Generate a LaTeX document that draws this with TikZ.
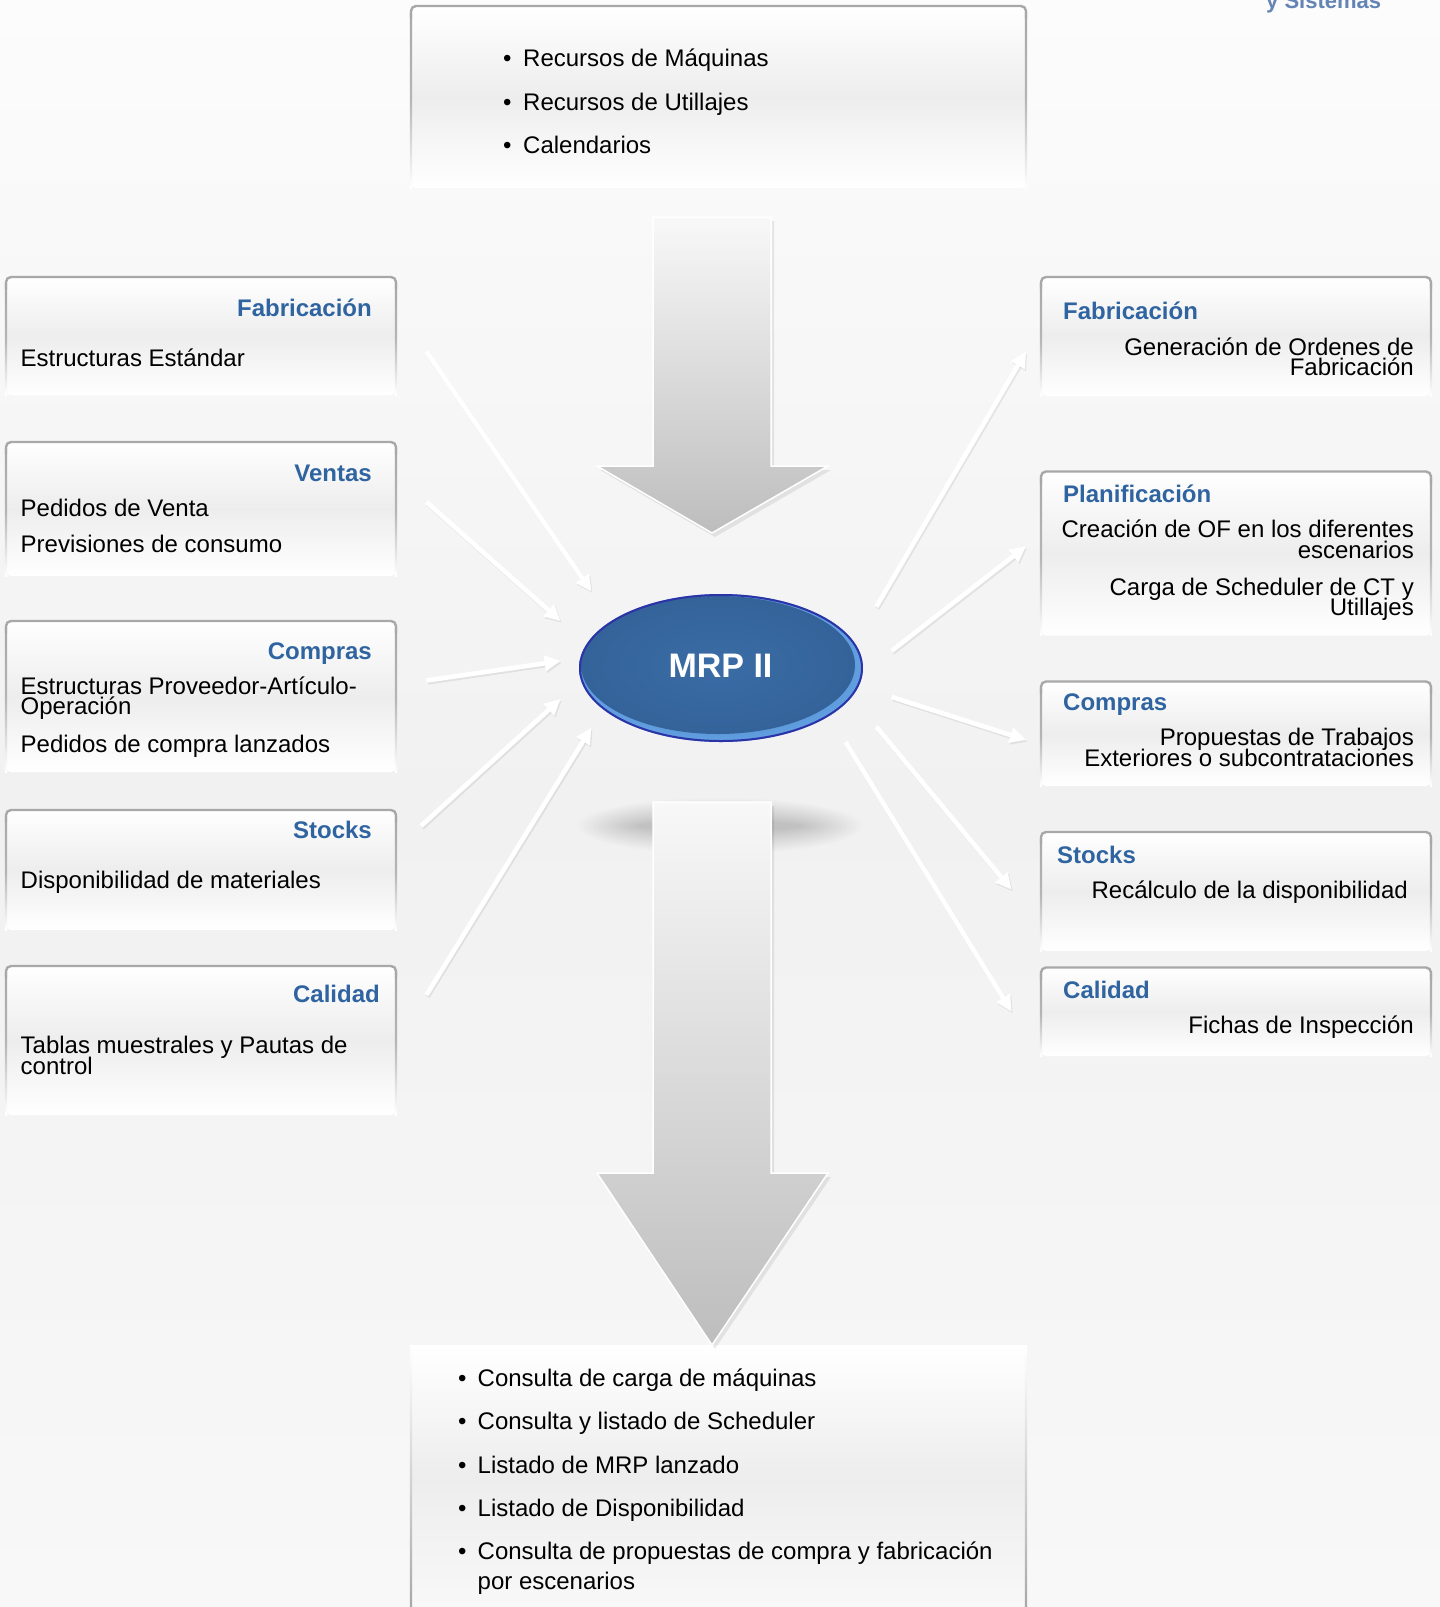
\documentclass[tikz,border=0pt]{standalone}
\usepackage{fontspec}
\setmainfont{Liberation Sans}
\usetikzlibrary{shapes.geometric,arrows.meta,fit}
\definecolor{headblue}{HTML}{2F64A0}
\definecolor{sysblue}{HTML}{6384B4}
\definecolor{boxmid}{HTML}{EDEDED}
\definecolor{edgegray}{HTML}{A8A8A8}
\definecolor{bgtop}{HTML}{FCFCFC}
\definecolor{bgmid}{HTML}{F1F1F1}
\definecolor{bgbot}{HTML}{F8F8F8}
\definecolor{mrpcore}{HTML}{3A6CA5}
\definecolor{mrpcoreedge}{HTML}{34639A}
\definecolor{mrprim}{HTML}{62A0E2}
\definecolor{mrpedge}{HTML}{2B33A6}
\definecolor{arrtop}{HTML}{F8F8F8}
\definecolor{arrbot}{HTML}{BDBDBD}
\newcommand\mypanel[5]{%
  \node[fit={(#2,#3)(#4,#5)}, inner sep=0pt, rounded corners=5pt,
        top color=white, bottom color=white, middle color=boxmid] (#1) {};
  \shade[top color=edgegray, bottom color=white, middle color=edgegray!85] (#2-1.2,#3+6) rectangle (#2+1.2,#5);
  \shade[top color=edgegray, bottom color=white, middle color=edgegray!85] (#4-1.2,#3+6) rectangle (#4+1.2,#5);
  \draw[edgegray, line width=2.4pt, rounded corners=5pt] (#2,#3+12) -- (#2,#3) -- (#4,#3) -- (#4,#3+12);
}
\begin{document}
\begin{tikzpicture}[x=1pt,y=-1pt,
  body/.style={font=\fontsize{24}{24}\selectfont, inner sep=0pt, text=black},
  head/.style={font=\fontsize{24}{24}\selectfont\bfseries, inner sep=0pt, text=headblue},
  lw/.style={anchor=base west},
  le/.style={anchor=base east},
  flow/.style={white, line width=4.6pt, -{Triangle[length=16pt,width=15pt]}},
  flowshadow/.style={black, opacity=0.07, line width=4.6pt, -{Triangle[length=16pt,width=15pt]}, transform canvas={shift={(1.2,1.8)}}},
  bigarrow/.style={top color=arrtop, bottom color=arrbot, draw=white, line width=1.5pt},
  bigshadow/.style={fill=black, opacity=0.08, transform canvas={shift={(3,4)}}},
]
\useasboundingbox (0,0) rectangle (1440,1607);
\shade[top color=bgtop, bottom color=bgbot, middle color=bgmid] (0,0) rectangle (1440,1607);

% top-right fragment
\node[font=\fontsize{22}{22}\selectfont\bfseries, text=sysblue, inner sep=0pt, lw] (sys) at (1266,8.5) {y Sistemas};

% top box
\mypanel{topbox}{411}{6}{1026}{188}
\node[body, lw] (t1) at (503,66) {\makebox[20pt][l]{•}Recursos de Máquinas};
\node[body, lw] (t2) at (503,110) {\makebox[20pt][l]{•}Recursos de Utillajes};
\node[body, lw] (t3) at (503,153) {\makebox[20pt][l]{•}Calendarios};

% bottom box
\node[fit={(411,1345)(1026,1607)}, inner sep=0pt, top color=white, bottom color=bgbot, middle color=boxmid] (botbox) {};
\shade[top color=white, bottom color=edgegray] (409.8,1345) rectangle (412.2,1607);
\shade[top color=white, bottom color=edgegray] (1024.8,1345) rectangle (1027.2,1607);
\node[body, lw] (b1) at (458,1386) {\makebox[19.5pt][l]{•}Consulta de carga de máquinas};
\node[body, lw] (b2) at (458,1429) {\makebox[19.5pt][l]{•}Consulta y listado de Scheduler};
\node[body, lw] (b3) at (458,1473) {\makebox[19.5pt][l]{•}Listado de MRP lanzado};
\node[body, lw] (b4) at (458,1516) {\makebox[19.5pt][l]{•}Listado de Disponibilidad};
\node[body, lw] (b5) at (458,1559) {\makebox[19.5pt][l]{•}Consulta de propuestas de compra y fabricación};
\node[body, lw] (b6) at (477.5,1589) {por escenarios};

% big arrows
\fill[bigshadow] (653,217) -- (771,217) -- (771,466) -- (828,466) -- (712,533) -- (597,466) -- (653,466) -- cycle;
\shade[bigarrow] (653,217) -- (771,217) -- (771,466) -- (828,466) -- (712,533) -- (597,466) -- (653,466) -- cycle;

% soft shadow under the ellipse
\foreach \k in {0,...,15}{
  \fill[black, opacity=0.01] (720,826) ellipse [x radius={142-4*\k}, y radius={28-1.5*\k}];
}

\fill[bigshadow] (653,802) -- (771,802) -- (771,1173) -- (828,1173) -- (712,1345) -- (597,1173) -- (653,1173) -- cycle;
\shade[bigarrow] (653,802) -- (771,802) -- (771,1173) -- (828,1173) -- (712,1345) -- (597,1173) -- (653,1173) -- cycle;

% left panels
\mypanel{lb1}{6}{277}{396}{395}
\node[head, le] (lb1h) at (372,316) {Fabricación};
\node[body, lw] (lb1a) at (20.5,366) {Estructuras Estándar};

\mypanel{lb2}{6}{442}{396}{576}
\node[head, le] (lb2h) at (372,481) {Ventas};
\node[body, lw] (lb2a) at (20.5,516) {Pedidos de Venta};
\node[body, lw] (lb2b) at (20.5,552) {Previsiones de consumo};

\mypanel{lb3}{6}{621}{396}{772}
\node[head, le] (lb3h) at (372,659) {Compras};
\node[body, lw] (lb3a) at (20.5,694) {Estructuras Proveedor-Artículo-};
\node[body, lw] (lb3b) at (20.5,714.5) {Operación};
\node[body, lw] (lb3c) at (20.5,752) {Pedidos de compra lanzados};

\mypanel{lb4}{6}{810}{396}{930}
\node[head, le] (lb4h) at (372,838) {Stocks};
\node[body, lw] (lb4a) at (20.5,888) {Disponibilidad de materiales};

\mypanel{lb5}{6}{966}{396}{1115}
\node[head, le] (lb5h) at (380,1002) {Calidad};
\node[body, lw] (lb5a) at (20.5,1053) {Tablas muestrales y Pautas de};
\node[body, lw] (lb5b) at (20.5,1074) {control};

% right panels
\mypanel{rb1}{1041}{277}{1431}{396}
\node[head, lw] (rb1h) at (1063,319) {Fabricación};
\node[body, le] (rb1a) at (1414,355) {Generación de Ordenes de};
\node[body, le] (rb1b) at (1414,375.5) {Fabricación};

\mypanel{rb2}{1041}{471.5}{1431}{635.5}
\node[head, lw] (rb2h) at (1063,502) {Planificación};
\node[body, le] (rb2a) at (1414,537.5) {Creación de OF en los diferentes};
\node[body, le] (rb2b) at (1414,558) {escenarios};
\node[body, le] (rb2c) at (1414,595) {Carga de Scheduler de CT y};
\node[body, le] (rb2d) at (1414,615.5) {Utillajes};

\mypanel{rb3}{1041}{681.5}{1431}{786}
\node[head, lw] (rb3h) at (1063,710) {Compras};
\node[body, le] (rb3a) at (1414,745.5) {Propuestas de Trabajos};
\node[body, le] (rb3b) at (1414,766) {Exteriores o subcontrataciones};

\mypanel{rb4}{1041}{832}{1431}{951}
\node[head, lw] (rb4h) at (1057,863) {Stocks};
\node[body, le] (rb4a) at (1408,898.5) {Recálculo de la disponibilidad};

\mypanel{rb5}{1041}{967.5}{1431}{1056}
\node[head, lw] (rb5h) at (1063,998) {Calidad};
\node[body, le] (rb5a) at (1414,1033.5) {Fichas de Inspección};

% MRP ellipse
\node[ellipse, minimum width=284pt, minimum height=148pt, inner sep=0pt,
      inner color=mrpcore, outer color=mrprim] (mrp) at (721,668) {};
\shade[inner color=mrpcore, outer color=mrpcoreedge] (718,665) ellipse [x radius=137, y radius=69];
\draw[mrpedge, line width=2pt] (mrp.center) ellipse [x radius=141, y radius=73];
\node[font=\fontsize{34}{34}\selectfont\bfseries, text=white, inner sep=0pt, anchor=base] (mrplbl) at (720.5,677) {MRP II};

% connector coordinates
\coordinate (l1s) at (426.4,351.5); \coordinate (l1e) at (591.4,591.4);
\coordinate (l2s) at (426.4,502);   \coordinate (l2e) at (560.6,621);
\coordinate (l3s) at (426.4,680.5); \coordinate (l3e) at (560.6,661);
\coordinate (l4s) at (421,826);     \coordinate (l4e) at (560.6,699);
\coordinate (l5s) at (426.4,995);   \coordinate (l5e) at (591.4,727.7);
\coordinate (r1s) at (876.3,606.7); \coordinate (r1e) at (1026,351.5);
\coordinate (r2s) at (891.7,650.8); \coordinate (r2e) at (1026,546.3);
\coordinate (r3s) at (891.7,697);   \coordinate (r3e) at (1026,740);
\coordinate (r4s) at (876.3,726.7); \coordinate (r4e) at (1011.6,889.6);
\coordinate (r5s) at (845.6,742);   \coordinate (r5e) at (1011.6,1011.6);

\foreach \a in {l1,l2,l3,l4,l5,r1,r2,r3,r4,r5}{
  \draw[flowshadow] (\a s) -- (\a e);
  \draw[flow] (\a s) -- (\a e);
}
\end{tikzpicture}
\end{document}
